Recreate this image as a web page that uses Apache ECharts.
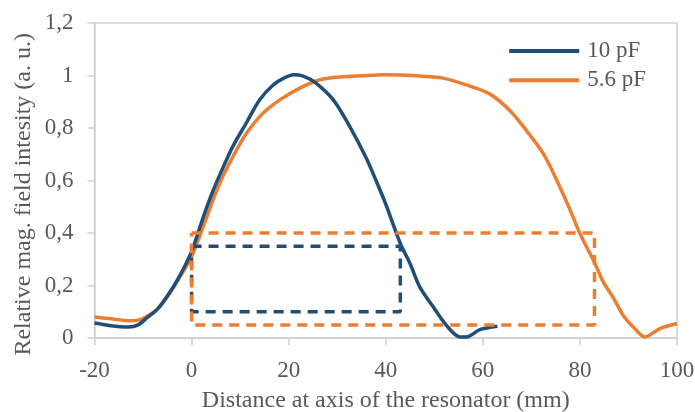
<!doctype html>
<html>
<head>
    <title>Field intensity</title>
    <script src="https://cdn.jsdelivr.net/npm/echarts@6/dist/echarts.min.js"></script>
</head>
<style>
    html, body { margin: 0; padding: 0; background: #fff; }
    #chart { width: 695px; height: 412px; }
</style>
<body>
<div id="chart"></div>
<script>
  // curve 10 pF: distance (mm) / relative intensity
  var x10 = [-20, -17, -13, -11, -9, -7, -5, -2.5, 0, 2.4, 4.4, 6.5, 8.5, 11.3, 14, 16.8, 19, 21, 23, 25.5, 29.2, 32.6, 36, 38, 40, 43, 45, 47, 49.8, 52.5, 55.3, 56.6, 59.4, 63];
  var y10 = [0.057, 0.048, 0.042, 0.05, 0.08, 0.11, 0.16, 0.235, 0.33, 0.46, 0.56, 0.65, 0.73, 0.82, 0.907, 0.964, 0.99, 1.003, 0.998, 0.973, 0.907, 0.805, 0.685, 0.6, 0.51, 0.36, 0.284, 0.195, 0.118, 0.048, 0.004, 0.004, 0.032, 0.045];

  // curve 5.6 pF
  var x56 = [-20, -17, -13, -11, -9, -7, -4.5, -2.5, 0, 3.1, 5.8, 8.5, 11.3, 14.7, 18.2, 22.3, 26.4, 31.9, 35, 39.5, 46.3, 51.8, 56.6, 61.4, 65.6, 69, 72.4, 75.2, 78, 80, 83.1, 84.8, 86.8, 88.9, 91, 93.4, 96.5, 100];
  var y56 = [0.08, 0.074, 0.066, 0.068, 0.085, 0.112, 0.17, 0.23, 0.31, 0.46, 0.59, 0.69, 0.78, 0.856, 0.907, 0.952, 0.984, 0.996, 0.999, 1.003, 0.999, 0.99, 0.964, 0.93, 0.866, 0.79, 0.704, 0.602, 0.487, 0.398, 0.284, 0.214, 0.156, 0.087, 0.042, 0.004, 0.036, 0.055];

  // dashed boxes [x0, x1] and [y0, y1]
  var box10X = [0, 43];
  var box10Y = [0.1, 0.35];
  var box56X = [0, 83];
  var box56Y = [0.05, 0.4];

  var xTicks = { min: -20, max: 100, interval: 20 };
  var yTicks = { min: 0, max: 1.2, interval: 0.2 };

  var names = ['10 pF', '5.6 pF'];
  var colors = ['#1F4E79', '#ED7D31'];
  var yTitle = 'Relative mag. field intesity (a. u.)';

  function pairs(xs, ys) {
    return xs.map(function (x, i) { return [x, ys[i]]; });
  }
  function boxPath(bx, by) {
    return [[bx[0], by[1]], [bx[1], by[1]], [bx[1], by[0]], [bx[0], by[0]], [bx[0], by[1]]];
  }

  var font = 'Liberation Serif';
  var txt = '#595959';
  var axisGray = '#d0d0d0';

  var myChart = echarts.init(document.getElementById('chart'));
  var option = {
    backgroundColor: '#fff',
    animation: false,
    textStyle: { fontFamily: font, color: txt },
    grid: {
      left: 94.5, right: 18, top: 23, bottom: 74,
      outerBoundsMode: 'none', containLabel: false,
      show: true, borderColor: axisGray, borderWidth: 1.5
    },
    legend: {
      right: 49, top: 33.5, orient: 'vertical', padding: 0,
      itemWidth: 70, itemHeight: 4, itemGap: -6,
      icon: 'rect',
      textStyle: { fontFamily: font, fontSize: 23, lineHeight: 23, color: txt, padding: [0, 0, 0, 3] },
      data: names
    },
    // y title as a free text so it can sit a little below the axis middle
    graphic: [{
      type: 'text', left: 5, top: 33,
      style: { text: yTitle, font: '24px "Liberation Serif"', fill: txt },
      rotation: Math.PI / 2
    }],
    xAxis: {
      type: 'value', min: xTicks.min, max: xTicks.max, interval: xTicks.interval,
      name: 'Distance at axis of the resonator (mm)',
      nameLocation: 'middle', nameGap: 44, nameMoveOverlap: false,
      nameTextStyle: { fontFamily: font, fontSize: 24, color: txt },
      axisLine: { onZero: false, lineStyle: { color: axisGray, width: 1.5 } },
      axisTick: { show: true, inside: false, length: 7, lineStyle: { color: axisGray, width: 1.5 } },
      axisLabel: { fontFamily: font, fontSize: 23, color: txt, margin: 15 },
      splitLine: { show: false }
    },
    yAxis: {
      type: 'value', min: yTicks.min, max: yTicks.max, interval: yTicks.interval,
      axisLine: { show: true, onZero: false, lineStyle: { color: axisGray, width: 1.5 } },
      axisTick: { show: true, inside: false, length: 7, lineStyle: { color: axisGray, width: 1.5 } },
      axisLabel: {
        fontFamily: font, fontSize: 23, color: txt, margin: 21,
        formatter: function (v) { return String(+v.toFixed(1)).replace('.', ','); }
      },
      splitLine: { show: false }
    },
    series: [
      {
        name: names[0], type: 'line', data: pairs(x10, y10), smooth: 0.3,
        showSymbol: false, lineStyle: { color: colors[0], width: 3.5 }, itemStyle: { color: colors[0] }, z: 3
      },
      {
        name: names[1], type: 'line', data: pairs(x56, y56), smooth: 0.3,
        showSymbol: false, lineStyle: { color: colors[1], width: 3.5 }, itemStyle: { color: colors[1] }, z: 2
      },
      {
        type: 'line', data: boxPath(box10X, box10Y), showSymbol: false,
        lineStyle: { color: colors[0], width: 3.5, type: [10, 7] }, z: 4
      },
      {
        type: 'line', data: boxPath(box56X, box56Y), showSymbol: false,
        lineStyle: { color: colors[1], width: 3.5, type: [10, 7] }, z: 4
      }
    ]
  };
  myChart.setOption(option);
</script>
</body>
</html>
